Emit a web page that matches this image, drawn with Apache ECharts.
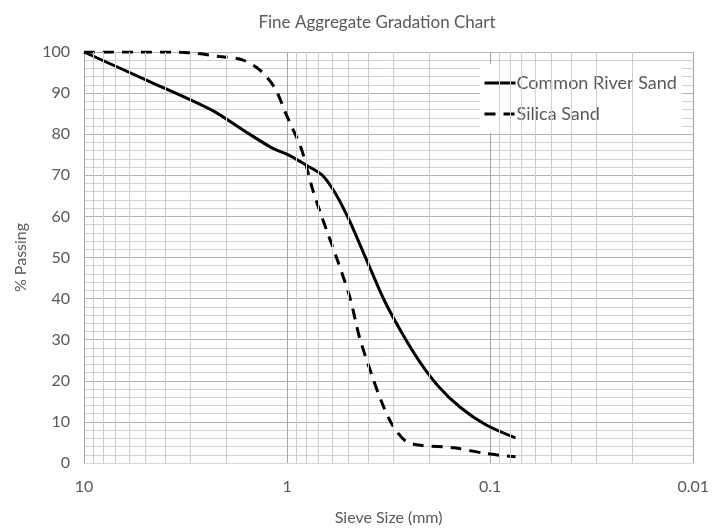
<!DOCTYPE html>
<html>
<head>
<meta charset="utf-8">
<title>Fine Aggregate Gradation Chart</title>
<script src="https://cdn.jsdelivr.net/npm/echarts@6/dist/echarts.min.js"></script>
<style>
  html, body { margin: 0; padding: 0; background: #ffffff; }
  #chart { width: 712px; height: 531px; }
</style>
</head>
<body>
<div id="chart"></div>
<script>
// Sieve openings (mm) and cumulative percent passing for each sand
const riverSizes   = [10, 4.75, 2.36, 1.6, 1.18, 0.97, 0.8, 0.67, 0.57, 0.49, 0.44, 0.39, 0.33, 0.27, 0.22, 0.18, 0.14, 0.105, 0.075];
const riverPassing = [100, 92.8, 85.9, 80.6, 76.6, 74.8, 72.4, 70.0, 65.1, 58.7, 53.4, 47.4, 39.3, 31.4, 24.3, 18.7, 13.5, 9.3, 6.1];

const silicaSizes   = [10, 4.75, 3.2, 2.15, 1.66, 1.37, 1.15, 1.01, 0.85, 0.75, 0.67, 0.57, 0.49, 0.44, 0.38, 0.34, 0.30, 0.26, 0.22, 0.15, 0.105, 0.075];
const silicaPassing = [100, 100, 99.9, 98.9, 98.1, 95.7, 91.3, 84.8, 76.4, 66.7, 59.5, 49.9, 40.2, 30.6, 21.0, 14.5, 8.9, 5.3, 4.3, 3.7, 2.3, 1.5];

const xTickLabels = ['10', '1', '0.1', '0.01'];
const yTicks = [0, 10, 20, 30, 40, 50, 60, 70, 80, 90, 100];

// Minor log gridlines: 2..9 within each decade between 0.01 and 10
const decades = [0.01, 0.1, 1];
const minorMultipliers = [2, 3, 4, 5, 6, 7, 8, 9];
const minorGridValues = [];
decades.forEach(d => minorMultipliers.forEach(m => minorGridValues.push(+(m * d).toPrecision(3))));

const textColor = '#595959';
const fontFamily = 'Lato, "Open Sans", sans-serif';

function pairs(xs, ys) { return xs.map((x, i) => [x, ys[i]]); }

const chart = echarts.init(document.getElementById('chart'), null, { renderer: 'canvas' });

chart.setOption({
  animation: false,
  backgroundColor: '#ffffff',
  textStyle: { fontFamily: fontFamily },
  title: {
    text: 'Fine Aggregate Gradation Chart',
    left: 372, top: 9, textAlign: 'center',
    textStyle: { color: textColor, fontSize: 17, fontWeight: 'normal', fontFamily: fontFamily }
  },
  grid: { left: 84, right: 17, top: 52, bottom: 64, containLabel: false },
  legend: {
    orient: 'vertical',
    left: 480, top: 64,
    padding: [10, 5, 10, 3],
    itemGap: 13,
    itemWidth: 31, itemHeight: 16,
    backgroundColor: '#ffffff',
    itemStyle: { opacity: 0 },
    lineStyle: { width: 3 },
    data: ['Common River Sand', 'Silica Sand'],
    textStyle: { color: textColor, fontSize: 18, fontFamily: fontFamily, padding: [0, 0, 0, -4] }
  },
  xAxis: {
    type: 'log', logBase: 10,
    min: 0.01, max: 10, inverse: true, splitNumber: 3,
    name: 'Sieve Size (mm)', nameLocation: 'middle', nameGap: 47,
    nameTextStyle: { color: textColor, fontSize: 16, fontFamily: fontFamily },
    axisLine: { show: true, lineStyle: { color: '#d9d9d9', width: 1 } },
    axisTick: { show: false },
    axisLabel: {
      color: textColor, fontSize: 16, margin: 16, fontFamily: fontFamily,
      formatter: v => {
        const i = Math.round(1 - Math.log10(v));
        return xTickLabels[i] !== undefined ? xTickLabels[i] : '';
      }
    },
    splitLine: { show: true, lineStyle: { color: '#a6a6a6', width: 1 } }
  },
  yAxis: {
    type: 'value', min: yTicks[0], max: yTicks[yTicks.length - 1], interval: 10,
    name: '% Passing', nameLocation: 'middle', nameGap: 55,
    nameTextStyle: { color: textColor, fontSize: 16, fontFamily: fontFamily },
    axisLine: { show: false, onZero: false },
    axisTick: { show: false },
    axisLabel: { color: textColor, fontSize: 16, margin: 14, fontFamily: fontFamily },
    splitLine: { show: true, lineStyle: { color: '#b3b3b3', width: 1 } },
    minorTick: { show: false, splitNumber: 5 },
    minorSplitLine: { show: true, lineStyle: { color: '#d4d4d4', width: 1 } }
  },
  series: [
    {
      // carries the minor vertical gridlines of the log axis
      name: 'grid',
      type: 'line',
      data: [],
      silent: true,
      z: 1,
      markLine: {
        silent: true,
        symbol: ['none', 'none'],
        label: { show: false },
        lineStyle: { color: '#cfcfcf', width: 1, type: 'solid' },
        emphasis: { disabled: true },
        data: minorGridValues.map(v => ({ xAxis: v }))
      }
    },
    {
      name: 'Common River Sand',
      type: 'line',
      data: pairs(riverSizes, riverPassing),
      smooth: 0.3,
      showSymbol: false, symbol: 'none',
      z: 3,
      lineStyle: { color: '#000000', width: 3, type: 'solid' },
      itemStyle: { color: '#000000' }
    },
    {
      name: 'Silica Sand',
      type: 'line',
      data: pairs(silicaSizes, silicaPassing),
      smooth: 0.3,
      showSymbol: false, symbol: 'none',
      z: 3,
      lineStyle: { color: '#000000', width: 3, type: [11, 8] },
      itemStyle: { color: '#000000' }
    }
  ]
});
</script>
</body>
</html>
